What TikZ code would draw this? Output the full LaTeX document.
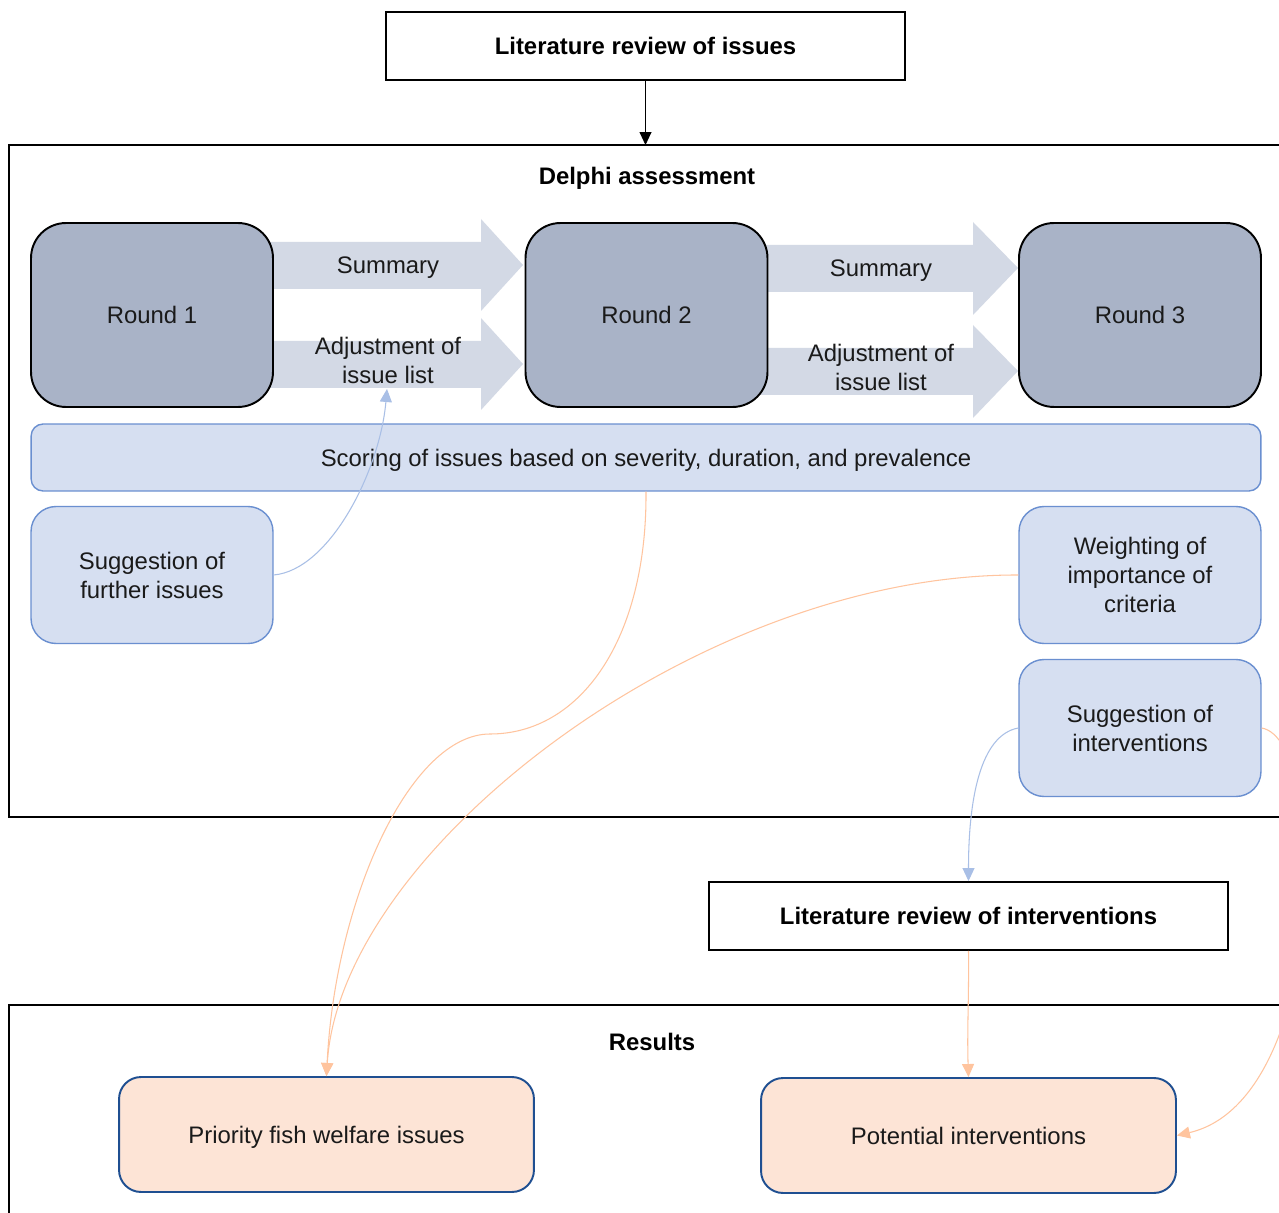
\documentclass[tikz,border=0pt]{standalone}
\usepackage{fontspec}
\setmainfont{Liberation Sans}
\usetikzlibrary{arrows.meta,calc}
\definecolor{roundfill}{HTML}{A9B3C7}
\definecolor{arrowfill}{HTML}{D3D9E5}
\definecolor{bluefill}{HTML}{D6DFF1}
\definecolor{blueline}{HTML}{6A8FD0}
\definecolor{peachfill}{HTML}{FDE4D6}
\definecolor{peachline}{HTML}{1F4F91}
\definecolor{bluecon}{HTML}{A9BFE6}
\definecolor{oracon}{HTML}{FFC49E}
\definecolor{txt}{HTML}{1A1A1A}
\tikzset{
  basefont/.style={font=\fontsize{13.6pt}{16.5pt}\selectfont},
  roundbox/.style={draw=black, line width=1.1pt, fill=roundfill, rounded corners=7mm,
    minimum width=48.4mm, minimum height=36.8mm, text=txt, inner sep=0pt},
  bluebox/.style={draw=blueline, line width=0.8pt, fill=bluefill, rounded corners=5mm,
    minimum width=48.4mm, minimum height=27.4mm, align=center, text=txt, inner sep=0pt},
  scorebar/.style={draw=blueline, line width=0.8pt, fill=bluefill, rounded corners=2.4mm,
    minimum width=246mm, minimum height=13.4mm, text=txt, inner sep=0pt, text depth=0pt},
  peachbox/.style={draw=peachline, line width=1.1pt, fill=peachfill, rounded corners=4.4mm,
    minimum width=83mm, minimum height=23mm, text=txt, inner sep=0pt, text depth=0pt},
  litbox/.style={draw=black, line width=1.1pt, fill=white, minimum width=103.8mm,
    minimum height=13.6mm, inner sep=0pt, font=\fontsize{13.6pt}{16.5pt}\selectfont\bfseries},
  titletext/.style={font=\fontsize{13.6pt}{16.5pt}\selectfont\bfseries, inner sep=0pt, text depth=0pt},
  labeltext/.style={align=center, text=txt, inner sep=0pt},
  sumtext/.style={text=txt, inner sep=0pt, text depth=0pt},
  blockarrow/.style={fill=arrowfill, draw=none},
  frame/.style={draw=black, line width=1.1pt},
  blackcon/.style={draw=black, line width=0.5pt, -{Triangle[length=2.6mm,width=2.4mm]}},
  bluelink/.style={draw=bluecon, line width=0.6pt, -{Triangle[length=2.6mm,width=2.4mm]}},
  oralink/.style={draw=oracon, line width=0.6pt, -{Triangle[length=2.6mm,width=2.4mm]}},
}
\begin{document}
\begin{tikzpicture}[x=0.02cm, y=-0.02cm, basefont]
\useasboundingbox[fill=white] (0,0) rectangle (1279,1213);

% frames
\draw[frame] (1300,145) -- (9,145) -- (9,817) -- (1300,817);
\draw[frame] (1300,1005) -- (9,1005) -- (9,1230);
\coordinate (delphitop) at (645.5,145);
\node[titletext] (delphi) at (647,176) {Delphi assessment};
\node[titletext] (results) at (652,1042) {Results};

% top literature box
\node[litbox] (litiss) at (645.5,46) {Literature review of issues};
\draw[blackcon] (litiss.south) -- (delphitop);

% block arrows
\fill[blockarrow] (260,242) -- (481,242) -- (481,219) -- (523,265) -- (481,311) -- (481,289) -- (260,289) -- cycle;
\fill[blockarrow] (260,341) -- (481,341) -- (481,318) -- (523,364) -- (481,410) -- (481,388) -- (260,388) -- cycle;
\fill[blockarrow] (755,245) -- (973,245) -- (973,222) -- (1018,268) -- (973,315) -- (973,292) -- (755,292) -- cycle;
\fill[blockarrow] (755,348) -- (973,348) -- (973,325) -- (1018,371) -- (973,418) -- (973,395) -- (755,395) -- cycle;

% rounds
\node[roundbox] (r1) at (152,315) {Round 1};
\node[roundbox] (r2) at (646.5,315) {Round 2};
\node[roundbox] (r3) at (1140,315) {Round 3};

% arrow labels
\node[sumtext] (sum1) at (388,265) {Summary};
\node[labeltext] (adj1) at (388,360.5) {Adjustment of\\issue list};
\node[sumtext] (sum2) at (881,268) {Summary};
\node[labeltext] (adj2) at (881,367.5) {Adjustment of\\issue list};
\coordinate (adjtip) at (387,389);

% scoring bar
\node[scorebar] (score) at (646,457.5) {Scoring of issues based on severity, duration, and prevalence};

% blue boxes
\node[bluebox] (sugf) at (152,575) {Suggestion of\\further issues};
\node[bluebox] (weight) at (1140,575) {Weighting of\\importance of\\criteria};
\node[bluebox] (sugi) at (1140,728) {Suggestion of\\interventions};

% literature review of interventions
\node[litbox] (litint) at (968.5,916) {Literature review of interventions};

% results boxes
\node[peachbox] (prio) at (326.5,1134.5) {Priority fish welfare issues};
\node[peachbox] (pot) at (968.5,1135.5) {Potential interventions};

% connectors
\draw[bluelink] (sugf.east) .. controls (330,570) and (380,470) .. (adjtip);
\draw[oralink] (score.south) .. controls (647,640) and (580,734) .. (490,734)
   .. controls (410,734) and (335,900) .. (prio.north);
\draw[oralink] (weight.west) .. controls (700,574) and (340,850) .. (prio.north);
\draw[bluelink] (sugi.west) .. controls (980,735) and (968.5,800) .. (litint.north);
\draw[oralink] (litint.south) .. controls (969,1000) and (967,1030) .. (pot.north);
\draw[oralink] (sugi.east) .. controls (1330,740) and (1330,1100) .. (pot.east);
\end{tikzpicture}
\end{document}
